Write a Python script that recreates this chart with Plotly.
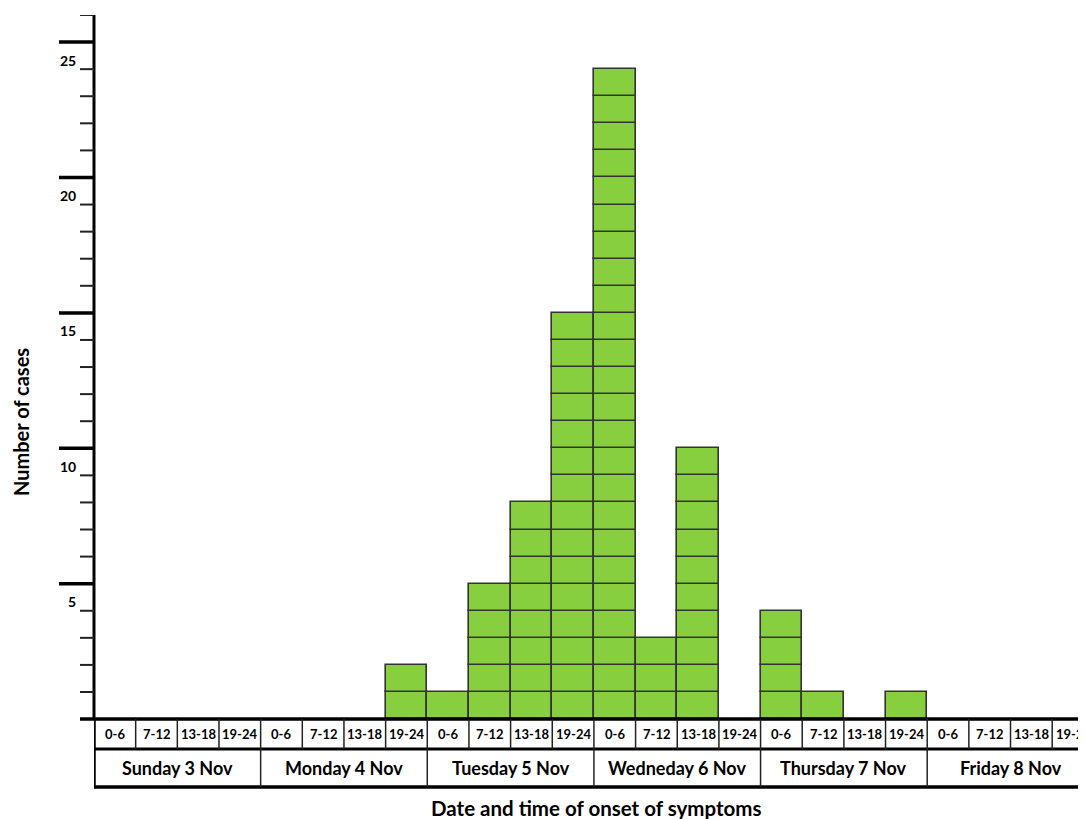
import plotly.graph_objects as go

# ---- data ----
days = ["Sunday 3 Nov", "Monday 4 Nov", "Tuesday 5 Nov", "Wedneday 6 Nov",
        "Thursday 7 Nov", "Friday 8 Nov"]
periods = ["0-6", "7-12", "13-18", "19-24"]
cases = [0, 0, 0, 0,
         0, 0, 0, 2,
         1, 5, 8, 15,
         24, 3, 10, 0,
         4, 1, 0, 1,
         0, 0, 0, 0]
y_major = [5, 10, 15, 20, 25]
y_top = 26

GREEN = "#88cf40"
EDGE = "#333333"
FONT = "Lato, 'Open Sans', Arial, sans-serif"

n_slots = len(days) * len(periods)
slot_x = list(range(n_slots))

# one box per case
bx, bbase = [], []
for i, c in enumerate(cases):
    for k in range(c):
        bx.append(slot_x[i])
        bbase.append(k)

fig = go.Figure()
fig.add_trace(go.Bar(x=bx, y=[1] * len(bx), base=bbase, width=1,
                     marker=dict(color=GREEN, line=dict(color=EDGE, width=1.6)),
                     hoverinfo="skip", showlegend=False))

OFF = 8  # page body margin
W, H = 1086 - OFF, 819 - OFF
ml, mt = 94 - OFF, 15 - OFF
plot_bottom = 790 - OFF
mr = 0
mb = H - plot_bottom
plot_w = W - ml - mr
slot_px = 41.66
x_hi = -0.5 + plot_w / slot_px
unit_px = 27.08
plot_h = H - mt - mb
y_lo = y_top - plot_h / unit_px

row1 = -30 / unit_px
row2 = -68 / unit_px

def px_x(page_x):
    return (page_x - OFF - ml) / plot_w

def px_y(page_y):
    return (plot_bottom - (page_y - OFF)) / plot_h

shapes = []
def line(x0, y0, x1, y1, w, xref="x", yref="y", color="black"):
    shapes.append(dict(type="line", x0=x0, y0=y0, x1=x1, y1=y1, xref=xref, yref=yref,
                       line=dict(color=color, width=w), layer="above"))

# y axis
line(0, 0, 0, y_top, 3, xref="paper")
for v in range(1, y_top + 1):
    if v in y_major:
        line(-35 / plot_w, v, 0, v, 3.5, xref="paper")
    else:
        line(-14 / plot_w, v, 0, v, 2, xref="paper", color="#222")
# baseline
line(-14 / plot_w, 0, 1.02, 0, 3.5, xref="paper")
# table
line(-0.5, row1, x_hi + 1, row1, 3)
line(-0.5, row2, x_hi + 1, row2, 3.5)
line(-0.5, 0, -0.5, row2, 3.5)
for i in range(1, n_slots):
    line(i - 0.5, 0, i - 0.5, row1, 1.5, color="#222")
for d in range(1, len(days)):
    line(d * 4 - 0.5, row1, d * 4 - 0.5, row2, 1.5, color="#222")

ann = []
for i in range(n_slots):
    ann.append(dict(x=slot_x[i], y=row1 / 2, xref="x", yref="y", text="<b>%s</b>" % periods[i % 4],
                    showarrow=False, font=dict(size=13, family=FONT, color="black")))
for d, name in enumerate(days):
    ann.append(dict(x=d * 4 + 1.5, y=(row1 + row2) / 2, xref="x", yref="y", text="<b>%s</b>" % name,
                    showarrow=False, font=dict(size=18, family=FONT, color="black")))
for v in y_major:
    ann.append(dict(x=-16 / plot_w, y=v - 18 / unit_px, xref="paper", yref="y", text="<b>%d</b>" % v,
                    showarrow=False, xanchor="right", yanchor="middle",
                    font=dict(size=14, family=FONT, color="black")))
ann.append(dict(x=px_x(596), y=px_y(808), xref="paper", yref="paper",
                text="<b>Date and time of onset of symptoms</b>", showarrow=False,
                yanchor="middle", font=dict(size=20.5, family=FONT, color="black")))
ann.append(dict(x=px_x(21), y=px_y(422), xref="paper", yref="paper",
                text="<b>Number of cases</b>", showarrow=False, textangle=-90,
                xanchor="center", yanchor="middle", font=dict(size=20, family=FONT, color="black")))

fig.update_layout(
    width=W, height=H,
    margin=dict(l=ml, r=mr, t=mt, b=mb, pad=0),
    paper_bgcolor="white", plot_bgcolor="white",
    barmode="overlay", bargap=0,
    xaxis=dict(range=[-0.5, x_hi], visible=False, fixedrange=True),
    yaxis=dict(range=[y_lo, y_top], visible=False, fixedrange=True),
    shapes=shapes, annotations=ann,
    showlegend=False,
)

fig.write_html("out.html")
